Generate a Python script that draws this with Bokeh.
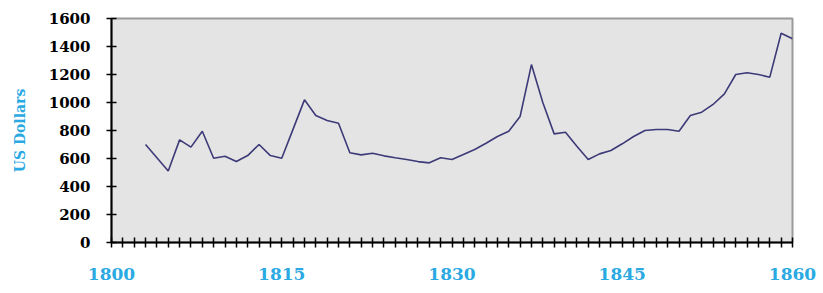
from bokeh.plotting import figure
from bokeh.models import FixedTicker, Range1d
from bokeh.embed import file_html
from bokeh.resources import INLINE

years = list(range(1803, 1861))
values = [700, 605, 510, 733, 681, 795, 602, 616, 578, 621,
          700, 621, 602, 810, 1019, 907, 871, 852, 641, 626,
          638, 619, 605, 593, 578, 569, 605, 593, 628, 664,
          709, 757, 795, 900, 1271, 1000, 776, 788, 688, 593,
          633, 657, 705, 757, 800, 807, 807, 795, 907, 931,
          986, 1062, 1200, 1212, 1200, 1181, 1495, 1455]

x_ticks = list(range(1800, 1861))
x_labels = [1800, 1815, 1830, 1845, 1860]
y_ticks = [0, 200, 400, 600, 800, 1000, 1200, 1400, 1600]
y_title = "US Dollars"

BLUE = "#2aa9e2"

p = figure(width=823, height=293, output_backend="svg", toolbar_location=None,
           x_range=Range1d(1800, 1860), y_range=Range1d(0, 1600),
           min_border_left=111, min_border_top=18, min_border_right=31, min_border_bottom=51)

p.background_fill_color = "#e4e4e4"
p.border_fill_color = "white"
p.outline_line_color = "#9a9a9a"
p.outline_line_width = 2
p.grid.visible = False

p.line(years, values, line_color="#3d3a78", line_width=1.6)

xa = p.xaxis[0]
xa.ticker = FixedTicker(ticks=x_ticks)
xa.major_label_overrides = {t: (str(t) if t in x_labels else "") for t in x_ticks}
xa.major_tick_in = 5
xa.major_tick_out = 5
xa.minor_tick_line_color = None
xa.axis_line_color = "black"
xa.axis_line_width = 2
xa.major_tick_line_width = 1.5
xa.major_label_text_font = "DejaVu Serif"
xa.major_label_text_font_style = "bold"
xa.major_label_text_font_size = "17px"
xa.major_label_text_color = BLUE
xa.major_label_standoff = 20

ya = p.yaxis[0]
ya.ticker = FixedTicker(ticks=y_ticks)
ya.major_tick_in = 5
ya.major_tick_out = 5
ya.minor_tick_line_color = None
ya.axis_line_color = "black"
ya.axis_line_width = 2
ya.major_tick_line_width = 1.5
ya.major_label_text_font = "DejaVu Serif"
ya.major_label_text_font_style = "bold"
ya.major_label_text_font_size = "15px"
ya.major_label_text_color = "black"
ya.major_label_standoff = 16
ya.axis_label = y_title
ya.axis_label_text_font = "DejaVu Serif"
ya.axis_label_text_font_style = "bold"
ya.axis_label_text_font_size = "14px"
ya.axis_label_text_color = BLUE
ya.axis_label_standoff = 18

open("out.html", "w").write(file_html(p, INLINE))
